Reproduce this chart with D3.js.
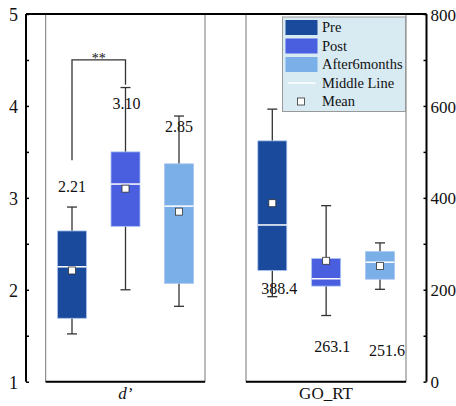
<!DOCTYPE html>
<html><head><meta charset="utf-8">
<script src="https://cdn.jsdelivr.net/npm/d3@7"></script>
<style>body{margin:0;background:#fff}svg{display:block}svg text{font-family:"Liberation Serif","Times New Roman","DejaVu Serif",serif !important;fill:#111}</style>
</head><body><svg id="c" width="456" height="406"></svg>
<script>
const groups = ["Pre","Post","After6months"];
const colors = ["#1a4a9c","#4a5ee0","#7aafe8"];
// d' panel: [whiskerLow, q1, median, q3, whiskerHigh, mean]
const dPrime = [
  [1.52, 1.69, 2.25, 2.64, 2.90, 2.21],
  [2.00, 2.69, 3.15, 3.50, 4.20, 3.10],
  [1.82, 2.07, 2.91, 3.37, 3.89, 2.85]
];
const goRT = [
  [185, 242, 341, 524, 593, 388.4],
  [144, 208, 224, 268, 383, 263.1],
  [201, 223, 260, 283, 302, 251.6]
];
const dLabels = ["2.21","3.10","2.85"];
const rtLabels = ["388.4","263.1","251.6"];
const leftTicks = [1,2,3,4,5];
const rightTicks = [0,200,400,600,800];
const panelNames = ["d\u2019","GO_RT"];

(function(){
const svg = d3.select("#c");
const yTop = 14, yBot = 381.7;
const yL = d3.scaleLinear().domain([1,5]).range([yBot, yTop]);
const yR = d3.scaleLinear().domain([0,800]).range([yBot, yTop]);
const axL = 26, axR = 426.5;

const panels = [
  {x0:45.7, x1:205, scale:yL, data:dPrime, labels:dLabels, name:panelNames[0]},
  {x0:246, x1:406, scale:yR, data:goRT, labels:rtLabels, name:panelNames[1]}
];

panels.forEach(p=>{
  svg.append("rect").attr("x",p.x0).attr("y",yTop).attr("width",p.x1-p.x0).attr("height",yBot-yTop)
    .attr("fill","none").attr("stroke","#777").attr("stroke-width",1);
  svg.append("line").attr("x1",p.x0).attr("x2",p.x1).attr("y1",yBot).attr("y2",yBot)
    .attr("stroke","#000").attr("stroke-width",2);
});
svg.append("line").attr("x1",axL).attr("x2",axR).attr("y1",yTop).attr("y2",yTop).attr("stroke","#000").attr("stroke-width",2);

const gL = svg.append("g").attr("transform",`translate(${axL},0)`)
  .call(d3.axisRight(yL).tickValues(d3.range(1,5.01,0.5)).tickSize(3).tickFormat(d=>leftTicks.includes(d)?d:""));
gL.select(".domain").attr("stroke-width",2).attr("d",`M0,${yTop}V${yBot}`);
gL.selectAll(".tick text").attr("x",-8).attr("dy","0.36em").attr("text-anchor","end").attr("font-size",18);
gL.selectAll(".tick line").attr("stroke-width",1.5);

const gR = svg.append("g").attr("transform",`translate(${axR},0)`)
  .call(d3.axisLeft(yR).tickValues(d3.range(0,801,100)).tickSize(3).tickFormat(d=>rightTicks.includes(d)?d:""));
gR.select(".domain").attr("stroke-width",2).attr("d",`M0,${yTop}V${yBot}`);
gR.selectAll(".tick text").attr("x",4).attr("dy","0.36em").attr("text-anchor","start").attr("font-size",17);
gR.selectAll(".tick line").attr("stroke-width",1.5);

const bw = 29;
const xs = panels.map(p=>d3.scalePoint().domain(groups).range([p.x0+26.3, p.x1-26]));
panels.forEach((p,pi)=>{
  const x = xs[pi];
  const y = p.scale;
  groups.forEach((gname,i)=>{
    const [wl,q1,med,q3,wh,mean] = p.data[i];
    const cx = x(gname);
    const g = svg.append("g");
    g.append("line").attr("x1",cx).attr("x2",cx).attr("y1",y(wh)).attr("y2",y(wl)).attr("stroke","#333").attr("stroke-width",1.3);
    [wl,wh].forEach(v=>g.append("line").attr("x1",cx-5).attr("x2",cx+5).attr("y1",y(v)).attr("y2",y(v)).attr("stroke","#333").attr("stroke-width",1.3));
    g.append("rect").attr("x",cx-bw/2).attr("y",y(q3)).attr("width",bw).attr("height",y(q1)-y(q3))
      .attr("fill",colors[i]).attr("stroke","#a9c4f0").attr("stroke-width",0.8);
    g.append("line").attr("x1",cx-bw/2).attr("x2",cx+bw/2).attr("y1",y(med)).attr("y2",y(med)).attr("stroke","#fff").attr("stroke-width",1.5);
    g.append("rect").attr("x",cx-3.5).attr("y",y(mean)-3.5).attr("width",7).attr("height",7)
      .attr("fill","#fff").attr("stroke","#333").attr("stroke-width",0.8);
  });
  svg.append("text").attr("x",(p.x0+p.x1)/2).attr("y",399).attr("text-anchor","middle")
    .attr("font-size",17).attr("font-style",pi===0?"italic":"normal").text(p.name);
});

const xl = xs[0], xr = xs[1];
const labelPos = [
  {x:xl("Pre"), y:yL(3.06), t:dLabels[0]},
  {x:xl("Post")+1, y:yL(3.97), t:dLabels[1]},
  {x:xl("After6months"), y:yL(3.72), t:dLabels[2]},
  {x:xr("Pre")+7, y:yR(191), t:rtLabels[0]},
  {x:xr("Post")+6, y:yR(65), t:rtLabels[1]},
  {x:xr("After6months")+7, y:yR(56), t:rtLabels[2]}
];
labelPos.forEach(l=>svg.append("text").attr("x",l.x).attr("y",l.y).attr("text-anchor","middle").attr("font-size",16).text(l.t));

const bx1 = xl("Pre"), bx2 = xl("Post"), by = yL(4.5);
svg.append("path").attr("d",`M${bx1},${yL(3.41)}V${by}H${bx2}V${yL(4.23)}`).attr("fill","none").attr("stroke","#333").attr("stroke-width",1.3);
svg.append("text").attr("x",(bx1+bx2)/2).attr("y",by+3).attr("text-anchor","middle").attr("font-size",14).text("**");

const lg = svg.append("g").attr("transform","translate(282.5,17)");
lg.append("rect").attr("width",123).attr("height",94.5).attr("fill","#d8eaf2").attr("stroke","#999").attr("stroke-width",1);
groups.forEach((gname,i)=>{
  lg.append("rect").attr("x",3).attr("y",3+i*18.5).attr("width",32).attr("height",15).attr("fill",colors[i]);
  lg.append("text").attr("x",39.5).attr("y",15+i*18.5).attr("font-size",14.5).text(gname);
});
lg.append("line").attr("x1",5).attr("x2",33).attr("y1",66).attr("y2",66).attr("stroke","#fff").attr("stroke-width",1.5);
lg.append("text").attr("x",39.5).attr("y",71).attr("font-size",14.5).text("Middle Line");
lg.append("rect").attr("x",15).attr("y",81).attr("width",7).attr("height",7).attr("fill","#fff").attr("stroke","#333").attr("stroke-width",0.8);
lg.append("text").attr("x",39.5).attr("y",89).attr("font-size",14.5).text("Mean");
})();
</script></body></html>
